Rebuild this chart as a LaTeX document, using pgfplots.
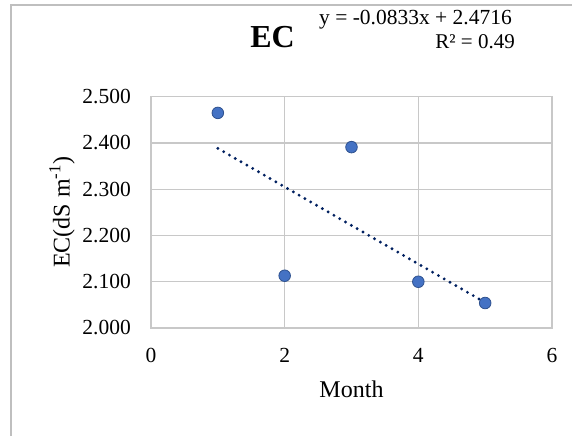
\documentclass[border=0pt]{standalone}
\usepackage{fontspec}
\setmainfont{Liberation Serif}
\usepackage{pgfplots}
\pgfplotsset{compat=1.18}
\definecolor{gridc}{HTML}{C8C8C8}
\definecolor{framec}{HTML}{BFBFBF}
\definecolor{mfill}{HTML}{4472C4}
\definecolor{mdraw}{HTML}{2F528F}
\definecolor{trend}{RGB}{0,32,96}
\begin{document}
\begin{tikzpicture}[x=1pt,y=1pt]
\useasboundingbox (0,0) rectangle (572,436);
\fill[white] (0,0) rectangle (572,436);
\draw[framec, line width=2pt] (11,0) -- (11,431) -- (572,431);
\begin{axis}[
  at={(151pt,108pt)}, anchor=south west,
  scale only axis, width=401pt, height=231.3pt,
  xmin=0, xmax=6, ymin=2.0, ymax=2.5,
  xtick={0,2,4,6}, ytick={2.0,2.1,2.2,2.3,2.4,2.5},
  grid=major,
  major grid style={gridc, line width=1.3pt},
  axis line style={gridc, line width=1.3pt},
  major tick length=0pt,
  /pgf/number format/assume math mode=true,
  yticklabel style={/pgf/number format/.cd, fixed, fixed zerofill, precision=3, /tikz/.cd, anchor=east, inner sep=0pt, xshift=-20pt, font=\fontsize{21.5}{25}\selectfont},
  xticklabel style={anchor=north, inner sep=0pt, yshift=-20pt, font=\fontsize{21.5}{25}\selectfont},
  xlabel={Month}, ylabel={EC(dS m\textsuperscript{-1})},
  every axis x label/.style={at={(rel axis cs:0.5,0)}, anchor=north, inner sep=0pt, yshift=-53pt, font=\fontsize{24}{28}\selectfont},
  every axis y label/.style={at={(rel axis cs:0,0.5)}, rotate=90, anchor=center, inner sep=0pt, yshift=89pt, font=\fontsize{24}{28}\selectfont},
]
\addplot[trend, line width=3.2pt, line cap=round, dash pattern=on 0pt off 6.7pt] coordinates {(1,2.3883) (5,2.0551)};
\addplot[only marks, mark=*, mark size=5.8pt, mark options={fill=mfill, draw=mdraw, line width=0.8pt}] coordinates {
(1,2.465) (2,2.113) (3,2.391) (4,2.100) (5,2.054)};
\end{axis}
\node[anchor=base, font=\fontsize{32}{36}\selectfont\bfseries, inner sep=0pt] at (272.5,388) {EC};
\node[anchor=base east, font=\fontsize{21.5}{25}\selectfont, inner sep=0pt] at (512,411) {y = -0.0833x + 2.4716};
\node[anchor=base east, font=\fontsize{21}{25}\selectfont, inner sep=0pt] at (515,387) {R² = 0.49};
\end{tikzpicture}
\end{document}
